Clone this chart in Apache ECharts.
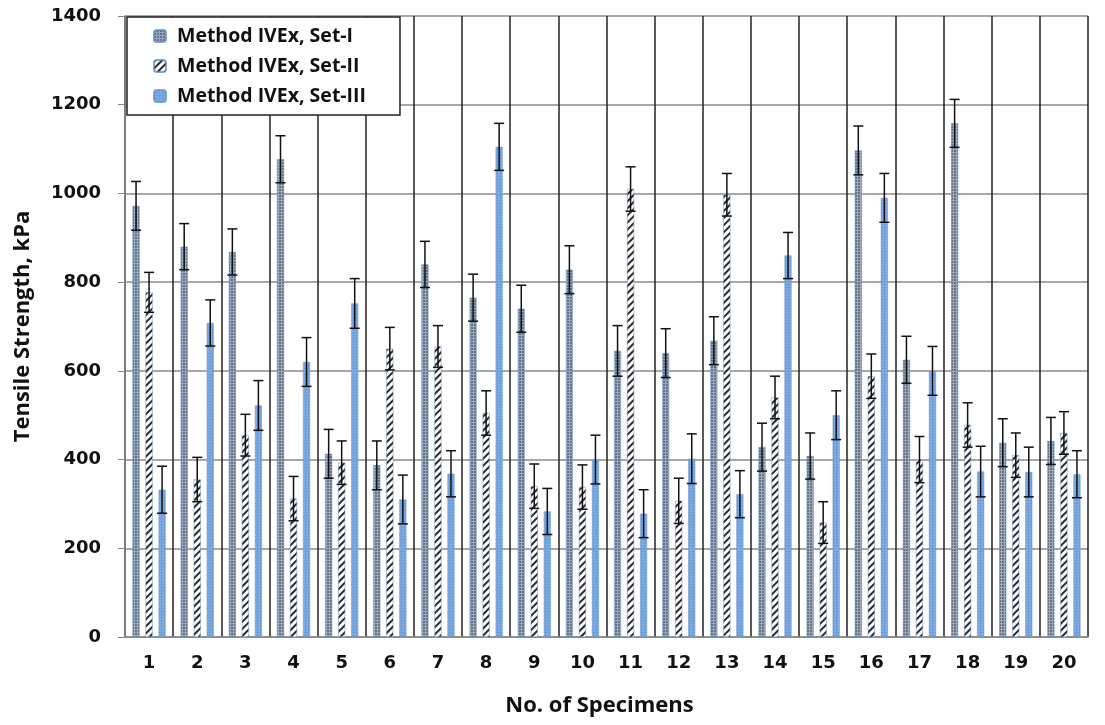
<!DOCTYPE html>
<html>
<head>
<meta charset="utf-8">
<script src="https://cdn.jsdelivr.net/npm/echarts@6/dist/echarts.min.js"></script>
<style>html,body{margin:0;padding:0;background:#fff;}#c{width:1105px;height:725px;}</style>
</head>
<body>
<div id="c"></div>
<script>
var categories = ['1','2','3','4','5','6','7','8','9','10','11','12','13','14','15','16','17','18','19','20'];
var seriesNames = ['Method IVEx, Set-I', 'Method IVEx, Set-II', 'Method IVEx, Set-III'];
var setI   = [972, 880, 868, 1077, 413, 387, 840, 765, 740, 828, 645, 640, 668, 428, 408, 1097, 625, 1158, 438, 442];
var setII  = [777, 355, 455, 312, 393, 650, 655, 505, 340, 338, 1010, 307, 997, 540, 258, 588, 400, 478, 410, 460];
var setIII = [332, 708, 522, 620, 752, 310, 368, 1105, 283, 400, 278, 402, 322, 860, 500, 990, 600, 373, 372, 367];
var errI   = [55, 52, 52, 53, 55, 55, 52, 53, 53, 54, 57, 55, 54, 54, 52, 55, 53, 54, 54, 53];
var errII  = [45, 50, 47, 50, 49, 48, 47, 50, 50, 50, 50, 51, 48, 48, 47, 50, 52, 50, 50, 48];
var errIII = [53, 52, 56, 55, 56, 55, 52, 53, 52, 55, 54, 56, 53, 52, 55, 55, 55, 57, 56, 53];
var yTicks = [0, 200, 400, 600, 800, 1000, 1200, 1400];

var BAR_W = 7;
var BAR_GAP = 0.86;

var values = [setI, setII, setIII];
var errs = [errI, errII, errIII];

var styles = [
  {color: '#98a8bf', decal: {symbol: 'circle', color: 'rgba(30,34,42,0.9)', symbolSize: 0.8, dashArrayX: [[2, 1]], dashArrayY: [2, 1], rotation: 0}},
  {color: '#ffffff', decal: {symbol: 'rect', color: '#2a2a2a', symbolSize: 1, dashArrayX: [[1, 0]], dashArrayY: [1.6, 2.4], rotation: -Math.PI / 4}},
  {color: '#6e9fdc', decal: {symbol: 'circle', color: 'rgba(215,230,250,0.85)', symbolSize: 0.6, dashArrayX: [[2, 1]], dashArrayY: [2, 1], rotation: 0}}
];

var series = [];
for (var s = 0; s < 3; s++) {
  series.push({
    name: seriesNames[s],
    type: 'bar',
    data: values[s],
    barWidth: BAR_W,
    barGap: (BAR_GAP * 100) + '%',
    itemStyle: {color: styles[s].color, decal: styles[s].decal, borderColor: 'rgba(110,150,200,0.6)', borderWidth: 0.5},
    emphasis: {disabled: true},
    z: 2
  });
}
for (var s2 = 0; s2 < 3; s2++) {
  (function (si) {
    var d = values[si].map(function (v, i) { return [i, v - errs[si][i], v + errs[si][i]]; });
    series.push({
      type: 'custom',
      name: 'err' + si,
      data: d,
      z: 5,
      silent: true,
      renderItem: function (params, api) {
        var ci = api.value(0);
        var lo = api.coord([ci, api.value(1)]);
        var hi = api.coord([ci, api.value(2)]);
        var off = (si - 1) * BAR_W * (1 + BAR_GAP);
        var x = lo[0] + off;
        var cap = 5;
        var st = {stroke: '#111', lineWidth: 1.5};
        return {
          type: 'group',
          children: [
            {type: 'line', shape: {x1: x, y1: lo[1], x2: x, y2: hi[1]}, style: st},
            {type: 'line', shape: {x1: x - cap, y1: hi[1], x2: x + cap, y2: hi[1]}, style: st},
            {type: 'line', shape: {x1: x - cap, y1: lo[1], x2: x + cap, y2: lo[1]}, style: st}
          ]
        };
      }
    });
  })(s2);
}

var chart = echarts.init(document.getElementById('c'), null, {renderer: 'canvas'});
chart.setOption({
  animation: false,
  backgroundColor: '#fff',
  grid: {left: 125, right: 17, top: 16, bottom: 88, containLabel: false},
  legend: {
    data: seriesNames,
    orient: 'vertical',
    left: 127,
    top: 17,
    itemWidth: 12,
    itemHeight: 12,
    itemGap: 6,
    padding: [7, 34, 7, 26],
    backgroundColor: '#fff',
    borderColor: '#222',
    borderWidth: 1.5,
    textStyle: {fontFamily: 'Open Sans', fontSize: 19.5, fontWeight: 'bold', color: '#111', padding: [0, 0, 0, 6], lineHeight: 24},
    selectedMode: false
  },
  xAxis: {
    type: 'category',
    data: categories,
    name: 'No. of Specimens',
    nameLocation: 'middle',
    nameGap: 58,
    nameTextStyle: {fontFamily: 'Open Sans', fontSize: 22, fontWeight: 'bold', color: '#111', padding: [0, 14, 0, 0]},
    axisLine: {lineStyle: {color: '#888', width: 1.5}},
    axisTick: {show: false},
    axisLabel: {fontFamily: 'DejaVu Sans', fontSize: 18, fontWeight: 'bold', color: '#111', margin: 17},
    splitLine: {show: true, interval: 0, lineStyle: {color: '#222', width: 1.5}}
  },
  yAxis: {
    type: 'value',
    min: 0,
    max: 1400,
    interval: 200,
    name: 'Tensile Strength, kPa',
    nameLocation: 'middle',
    nameRotate: 90,
    nameGap: 91,
    nameTextStyle: {fontFamily: 'Open Sans', fontSize: 22, fontWeight: 'bold', color: '#111'},
    axisLine: {show: true, lineStyle: {color: '#888', width: 1.5}},
    axisTick: {show: true, length: 7, lineStyle: {color: '#888'}},
    axisLabel: {fontFamily: 'DejaVu Sans', fontSize: 18, fontWeight: 'bold', color: '#111', margin: 24,
      formatter: function (v) { return yTicks.indexOf(v) >= 0 ? String(v) : ''; }},
    splitLine: {show: true, lineStyle: {color: '#8a8a8a', width: 1.5}}
  },
  series: series
});
</script>
</body>
</html>
